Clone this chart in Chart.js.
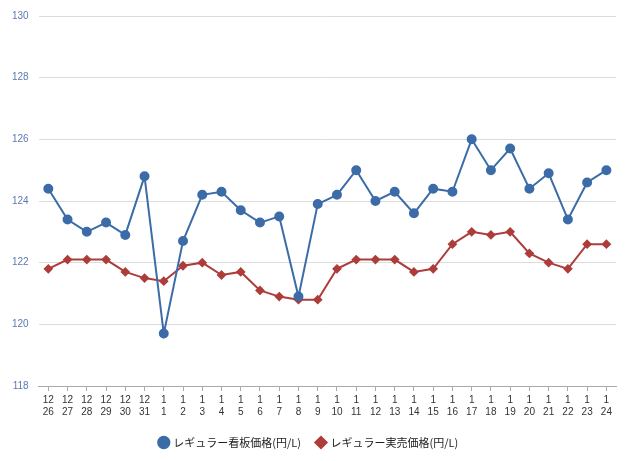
<!DOCTYPE html><html><head><meta charset="utf-8">
<script src="https://cdn.jsdelivr.net/npm/chart.js@4"></script>
<style>body{margin:0;background:#fff}#w{width:640px;height:461px}</style></head><body><div id="w"><canvas id="c"></canvas></div>
<script>
const months=["12","12","12","12","12","12","1","1","1","1","1","1","1","1","1","1","1","1","1","1","1","1","1","1","1","1","1","1","1","1"];
const days=["26","27","28","29","30","31","1","2","3","4","5","6","7","8","9","10","11","12","13","14","15","16","17","18","19","20","21","22","23","24"];
const signPrice=[124.4,123.4,123.0,123.3,122.9,124.8,119.7,122.7,124.2,124.3,123.7,123.3,123.5,120.9,123.9,124.2,125.0,124.0,124.3,123.6,124.4,124.3,126.0,125.0,125.7,124.4,124.9,123.4,124.6,125.0];
const salePrice=[121.8,122.1,122.1,122.1,121.7,121.5,121.4,121.9,122.0,121.6,121.7,121.1,120.9,120.8,120.8,121.8,122.1,122.1,122.1,121.7,121.8,122.6,123.0,122.9,123.0,122.3,122.0,121.8,122.6,122.6];
const labels=months.map((m,i)=>[m,days[i]]);
new Chart(document.getElementById('c'),{type:'line',data:{labels,datasets:[
{label:'レギュラー看板価格(円/L)',data:signPrice,borderColor:'#3c6ca8',backgroundColor:'#3c6ca8',borderWidth:2,pointRadius:4,pointStyle:'circle',tension:0},
{label:'レギュラー実売価格(円/L)',data:salePrice,borderColor:'#ad3d3a',backgroundColor:'#ad3d3a',borderWidth:2,pointRadius:3.5,pointStyle:'rectRot',tension:0}]},
options:{responsive:true,maintainAspectRatio:false,animation:false,
layout:{padding:{left:2,right:24,top:6,bottom:3}},
plugins:{legend:{position:'bottom',labels:{usePointStyle:true,boxWidth:8,boxHeight:8,color:'#222',font:{size:11,family:'Noto Sans CJK JP'},padding:16}},tooltip:{enabled:false}},
scales:{x:{offset:true,grid:{display:true,drawOnChartArea:false,color:'#aaa',tickLength:5},border:{color:'#aaa'},ticks:{color:'#333',font:{size:10},maxRotation:0,autoSkip:false}},
y:{min:118,max:130,ticks:{stepSize:2,color:'#5b7bb0',font:{size:10},padding:10},grid:{color:'#dcdcdc',drawTicks:false},border:{display:false}}}}});
</script></body></html>
